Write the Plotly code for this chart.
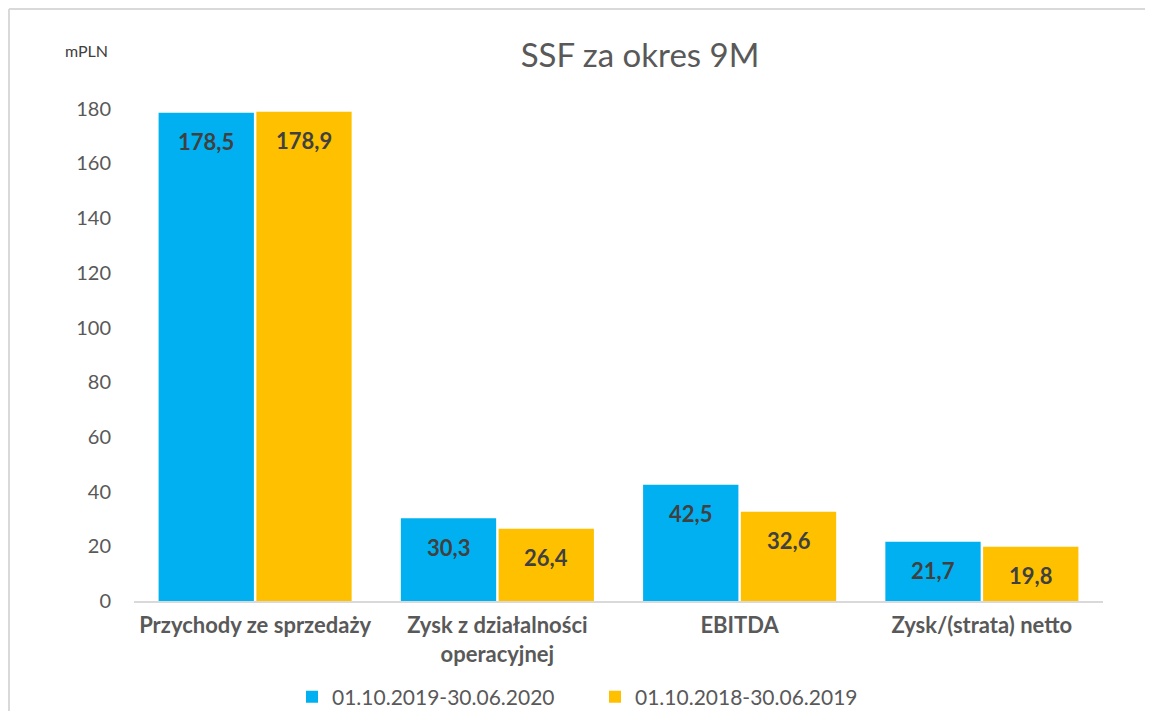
import plotly.graph_objects as go

categories = ["Przychody ze sprzedaży", "Zysk z działalności<br>operacyjnej", "EBITDA", "Zysk/(strata) netto"]
series_2020 = [178.5, 30.3, 42.5, 21.7]
series_2019 = [178.9, 26.4, 32.6, 19.8]
name_2020 = "01.10.2019-30.06.2020"
name_2019 = "01.10.2018-30.06.2019"
y_ticks = [0, 20, 40, 60, 80, 100, 120, 140, 160, 180]

FONT = "Lato, Open Sans, sans-serif"
COLORS = ["#00B0F0", "#FFC000"]

def fmt(v):
    return f"{v:.1f}".replace(".", ",")

# figure geometry (page has an 8px body margin)
W, H = 1137, 703
L, R, T, B = 126, 42, 46, 110
pw, ph = W - L - R, H - T - B
BARGAP, GROUPGAP = 0.193, 0.025
cat_px = pw / len(categories)
slot_px = cat_px * (1 - BARGAP) / 2

fig = go.Figure()
series = [(name_2020, series_2020), (name_2019, series_2019)]
annotations = []
for i, (name, vals) in enumerate(series):
    fig.add_trace(go.Bar(
        x=categories, y=vals, name=name,
        marker=dict(color=COLORS[i], line=dict(width=0)),
        hoverinfo="x+y+name",
    ))
    for c, v in zip(categories, vals):
        annotations.append(dict(
            x=c, y=v, xref="x", yref="y", text=fmt(v), showarrow=False,
            xshift=(i - 0.5) * slot_px, yshift=-29, xanchor="center", yanchor="middle",
            font=dict(family=FONT, size=22, color="#404040", weight="bold"),
        ))

annotations.append(dict(text="mPLN", xref="paper", yref="paper",
                        x=(78 - L) / pw, y=1 + (T - 43) / ph, xanchor="center", yanchor="middle",
                        showarrow=False, font=dict(family=FONT, size=16, color="#404040")))

border = dict(color="#D9D9D9", width=2)
x_left = (1 - L) / pw
x_right = (W + 60 - L) / pw
y_top = 1 + (T - 1) / ph
y_bottom = (ph + T - H - 60) / ph

fig.update_layout(
    width=W, height=H,
    margin=dict(l=L, r=R, t=T, b=B, autoexpand=False),
    paper_bgcolor="white", plot_bgcolor="white",
    barmode="group", bargap=BARGAP, bargroupgap=GROUPGAP,
    font=dict(family=FONT, color="#595959"),
    title=dict(text="SSF za okres 9M", x=632 / W, xref="container", xanchor="center",
               y=1 - 47 / H, yref="container", yanchor="middle",
               font=dict(family=FONT, size=33, color="#595959")),
    legend=dict(orientation="h", x=(284 - L) / pw, xanchor="left",
                y=(593 - 689) / ph, yanchor="middle",
                entrywidth=258, entrywidthmode="pixels",
                font=dict(family=FONT, size=21, color="#595959"),
                traceorder="normal"),
    xaxis=dict(showline=True, linecolor="#D9D9D9", linewidth=2, ticks="",
               ticklabelstandoff=4, automargin=False,
               tickfont=dict(family=FONT, size=22, color="#595959", weight="bold"),
               showgrid=False),
    yaxis=dict(range=[0, 200], tickvals=y_ticks, showgrid=False, zeroline=False,
               showline=False, ticks="", ticklabelstandoff=22, automargin=False,
               tickfont=dict(family=FONT, size=20, color="#595959")),
    shapes=[
        dict(type="line", xref="paper", yref="paper", x0=x_left, x1=x_right,
             y0=y_top, y1=y_top, line=border, layer="below"),
        dict(type="line", xref="paper", yref="paper", x0=x_left, x1=x_left,
             y0=y_bottom, y1=y_top, line=border, layer="below"),
    ],
    annotations=annotations,
)

fig.write_html("out.html")
